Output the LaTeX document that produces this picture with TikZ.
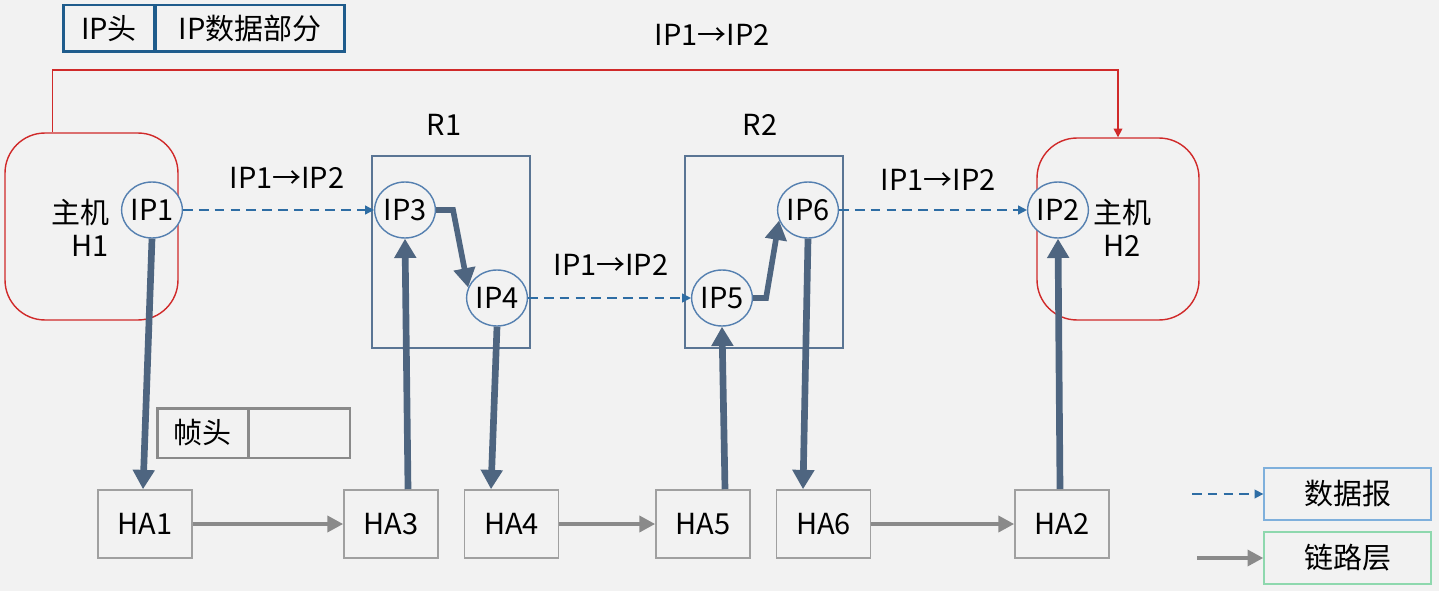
\documentclass[tikz,border=0pt]{standalone}
\usepackage{fontspec}
\setmainfont{Noto Sans CJK SC}
\usetikzlibrary{arrows.meta, shapes.geometric, positioning}
\definecolor{bgcol}{HTML}{F2F2F2}
\definecolor{ipblue}{HTML}{5580B0}
\definecolor{dashblue}{HTML}{2E6DA4}
\definecolor{hdrblue}{HTML}{1F5C8C}
\definecolor{routerblue}{HTML}{5A7594}
\definecolor{hostred}{HTML}{D02A2A}
\definecolor{linkslate}{HTML}{4E6580}
\definecolor{hagray}{HTML}{A0A0A0}
\definecolor{hopgray}{HTML}{8A8A8A}
\definecolor{legblue}{HTML}{7FB0DC}
\definecolor{leggreen}{HTML}{8ED8AE}
\tikzstyle{ipnode}    = [draw=ipblue, line width=0.8pt, ellipse, minimum width=1.2cm, minimum height=1.12cm, inner sep=0pt, fill=bgcol]
\tikzstyle{hanode}    = [draw=hagray, line width=0.9pt, minimum width=1.88cm, minimum height=1.36cm, inner sep=0pt]
\tikzstyle{hostbox}   = [draw=hostred, line width=0.8pt, rounded corners=0.8cm, inner sep=0pt]
\tikzstyle{routerbox} = [draw=routerblue, line width=0.7pt, minimum width=3.16cm, minimum height=3.84cm, inner sep=0pt]
\tikzstyle{hdrbox}    = [draw=hdrblue, line width=1.7pt, minimum height=0.94cm, inner sep=0pt]
\tikzstyle{framebox}  = [draw=hopgray, line width=1.7pt, minimum height=1cm, inner sep=0pt]
\tikzstyle{legbox}    = [line width=0.8pt, minimum width=3.34cm, minimum height=1.04cm, inner sep=0pt]
\tikzstyle{dataedge}  = [dashblue, line width=0.9pt, dash pattern=on 5.5pt off 3.5pt, -{Triangle[length=5pt,width=5pt]}]
\tikzstyle{linkedge}  = [linkslate, line width=3.8pt, -{Triangle[length=11pt,width=12pt]}]
\tikzstyle{hopedge}   = [hopgray, line width=2.6pt, -{Triangle[length=9pt,width=9pt]}]
\tikzstyle{redline}   = [hostred, line width=0.8pt, -{Triangle[length=5pt,width=5pt]}]

\begin{document}
\fontsize{16.5}{19}\selectfont
\begin{tikzpicture}[x=0.02cm, y=-0.02cm]

\fill[bgcol] (0,0) rectangle (1439,591);
\useasboundingbox (0,0) rectangle (1439,591);

% IP datagram format
\node[hdrbox, minimum width=1.84cm] (IPH) at (109,28.5) {IP头};
\node[hdrbox, minimum width=3.8cm] (IPD) at (250,28.5) {IP数据部分};

% hosts and routers
\node[hostbox, minimum width=3.46cm, minimum height=3.74cm] (H1) at (91.5,226.5) {};
\node[hostbox, minimum width=3.24cm, minimum height=3.64cm] (H2) at (1118,229) {};
\node[routerbox] (R1) at (451,252) {};
\node[routerbox] (R2) at (764,252) {};
\node (R1L) at (444,125) {R1};
\node (R2L) at (760,125) {R2};

\node[align=right] (H1L) at (80,228) {主机\\H1};
\node[align=center] (H2L) at (1122,228) {主机\\H2};

% interfaces
\node[ipnode] (IP1) at (152,210) {IP1};
\node[ipnode] (IP3) at (405,210) {IP3};
\node[ipnode] (IP4) at (497,298) {IP4};
\node[ipnode] (IP5) at (722,298) {IP5};
\node[ipnode] (IP6) at (808,210) {IP6};
\node[ipnode] (IP2) at (1058,210) {IP2};

% hardware addresses
\node[hanode] (HA1) at (145,524) {HA1};
\node[hanode] (HA3) at (391,524) {HA3};
\node[hanode] (HA4) at (511.5,524) {HA4};
\node[hanode] (HA5) at (703,524) {HA5};
\node[hanode] (HA6) at (823.5,524) {HA6};
\node[hanode] (HA2) at (1062,524) {HA2};

% frame format
\node[framebox, minimum width=1.82cm] (FH) at (202.5,433) {帧头};
\node[framebox, minimum width=2.04cm] (FD) at (299,433) {};

% labels
\node (L0) at (712,35) {IP1→IP2};
\node (L1) at (287,178) {IP1→IP2};
\node (L2) at (611,265) {IP1→IP2};
\node (L3) at (938,180) {IP1→IP2};

% end to end
\coordinate (TR) at (1118,70);
\draw[redline] ([xshift=0.96cm]H1.north west) |- (TR) -- (H2.north);

% datagram hops
\draw[dataedge] (IP1) -- (IP3);
\draw[dataedge] (IP4) -- (IP5);
\draw[dataedge] (IP6) -- (IP2);

% link layer
\draw[linkedge] (IP1.south) -- ([xshift=-0.04cm]HA1.north);
\draw[linkedge] ([xshift=0.34cm]HA3.north) -- (IP3.south);
\draw[linkedge] (IP4.south) -- ([xshift=-0.41cm]HA4.north);
\draw[linkedge] ([xshift=0.44cm]HA5.north) -- (IP5.south);
\draw[linkedge] (IP6.south) -- ([xshift=-0.41cm]HA6.north);
\draw[linkedge] ([xshift=-0.04cm]HA2.north) -- (IP2.south);

\draw[linkedge, line width=3.2pt] (IP3.east) -- ++(17,0) -- (IP4.160);
\draw[linkedge, line width=3.2pt] (IP5.east) -- ++(13,0) -- (IP6.200);

\draw[hopedge] (HA1) -- (HA3);
\draw[hopedge] (HA4) -- (HA5);
\draw[hopedge] (HA6) -- (HA2);

% legend
\node[legbox, draw=legblue] (LD) at (1347.5,494) {数据报};
\node[legbox, draw=leggreen] (LL) at (1347.5,558) {链路层};
\coordinate (LDs) at (1192,494);
\coordinate (LLs) at (1197,558);
\draw[dataedge] (LDs) -- (LD);
\draw[hopedge] (LLs) -- (LL);

\end{tikzpicture}
\end{document}
